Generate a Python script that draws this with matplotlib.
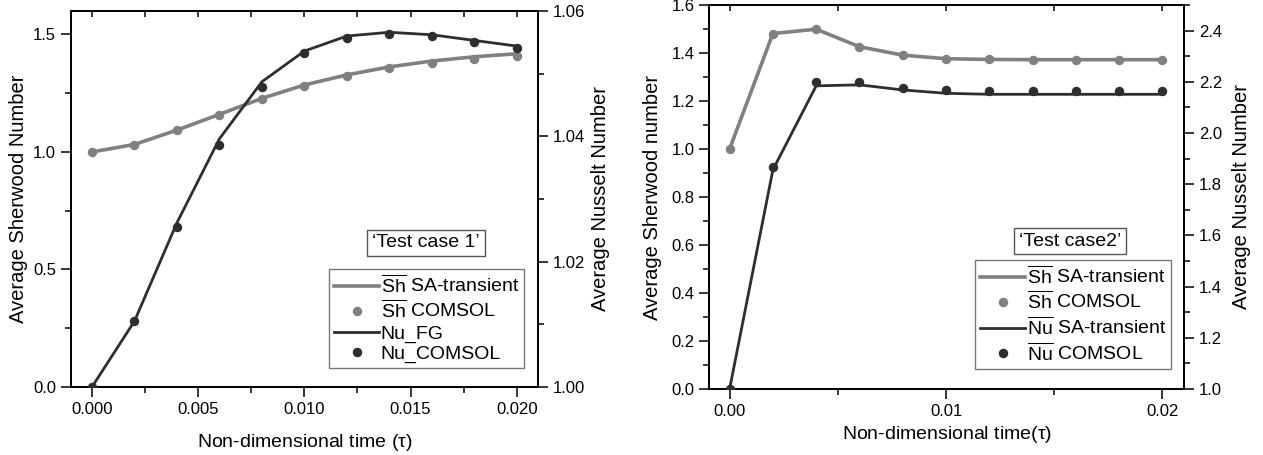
import matplotlib
matplotlib.use("Agg")
import matplotlib.pyplot as plt
from matplotlib.ticker import MultipleLocator, FormatStrFormatter

plt.rcParams['font.family'] = ['Liberation Sans', 'DejaVu Sans']
plt.rcParams['mathtext.fontset'] = 'custom'
plt.rcParams['mathtext.rm'] = 'Liberation Sans'
plt.rcParams['mathtext.it'] = 'Liberation Sans'

# ---- data ----
tau = [0.000, 0.002, 0.004, 0.006, 0.008, 0.010, 0.012, 0.014, 0.016, 0.018, 0.020]

# test case 1
sh1_line = [1.000, 1.032, 1.093, 1.160, 1.228, 1.285, 1.328, 1.362, 1.387, 1.405, 1.418]
sh1_pts = [1.000, 1.031, 1.092, 1.159, 1.226, 1.282, 1.323, 1.356, 1.380, 1.397, 1.409]
nu1_line = [1.0000, 1.0105, 1.0262, 1.0396, 1.0487, 1.0536, 1.0560, 1.0566, 1.0562, 1.0553, 1.0544]
nu1_pts = [1.0000, 1.0105, 1.0255, 1.0386, 1.0478, 1.0533, 1.0557, 1.0563, 1.0560, 1.0551, 1.0541]

# test case 2
sh2_line = [1.000, 1.481, 1.499, 1.426, 1.391, 1.376, 1.373, 1.372, 1.372, 1.372, 1.372]
sh2_pts = [1.000, 1.481, 1.499, 1.426, 1.391, 1.376, 1.373, 1.372, 1.372, 1.372, 1.372]
nu2_line = [1.000, 1.856, 2.184, 2.188, 2.168, 2.155, 2.151, 2.151, 2.151, 2.151, 2.151]
nu2_pts = [1.000, 1.869, 2.201, 2.201, 2.177, 2.166, 2.162, 2.162, 2.162, 2.162, 2.162]

gray = '#808080'
dark = '#2e2e2e'
fs_tick = 12
fs_lab = 14.5
fs_xlab = 14
fs_leg = 14
sh_tex = r'$\overline{\mathrm{Sh}}$'
nu_tex = r'$\overline{\mathrm{Nu}}$'


def style(ax):
    ax.tick_params(which='both', direction='out', labelsize=fs_tick, width=1.1)
    ax.tick_params(which='major', length=7)
    ax.tick_params(which='minor', length=4)
    for s in ax.spines.values():
        s.set_linewidth(1.3)


def add_top(ax):
    sec = ax.secondary_xaxis('top')
    sec.xaxis.set_major_locator(ax.xaxis.get_major_locator())
    sec.xaxis.set_minor_locator(ax.xaxis.get_minor_locator())
    sec.tick_params(which='both', direction='in', length=4.5, width=1.1, labeltop=False)
    sec.spines['top'].set_linewidth(1.3)


def legend_box(ax_main, ax_twin, anchor, text, text_xy):
    h1, l1 = ax_main.get_legend_handles_labels()
    h2, l2 = ax_twin.get_legend_handles_labels()
    leg = ax_twin.legend(h1 + h2, l1 + l2, loc='lower right', bbox_to_anchor=anchor,
                         fontsize=fs_leg, frameon=True, fancybox=False, edgecolor='#555555',
                         handlelength=2.3, handletextpad=0.1, labelspacing=0.15,
                         borderpad=0.25, borderaxespad=0)
    leg.get_frame().set_linewidth(1.0)
    ax_twin.text(text_xy[0], text_xy[1], text, transform=ax_twin.transAxes,
                 ha='center', va='center', fontsize=fs_leg,
                 bbox=dict(boxstyle='square,pad=0.25', fc='white', ec='#555555', lw=1.0))


fig = plt.figure(figsize=(12.63, 4.55), dpi=100)

# ---------- left panel ----------
ax1 = fig.add_axes([0.056, 0.1495, 0.370, 0.8264])
ax1b = ax1.twinx()
ax1.plot(tau, sh1_line, color=gray, lw=2.6, label=sh_tex + ' SA-transient', zorder=2)
ax1.plot(tau, sh1_pts, 'o', color=gray, ms=5.8, label=sh_tex + ' COMSOL', zorder=3)
ax1b.plot(tau, nu1_line, color=dark, lw=2.0, label='Nu_FG', zorder=2)
ax1b.plot(tau, nu1_pts, 'o', color=dark, ms=5.8, label='Nu_COMSOL', zorder=3)
ax1.set_xlim(-0.001, 0.021)
ax1.set_ylim(0, 1.6)
ax1b.set_ylim(1.0, 1.06)
ax1.xaxis.set_major_locator(MultipleLocator(0.005))
ax1.xaxis.set_minor_locator(MultipleLocator(0.0025))
ax1.xaxis.set_major_formatter(FormatStrFormatter('%.3f'))
ax1.yaxis.set_major_locator(MultipleLocator(0.5))
ax1.yaxis.set_minor_locator(MultipleLocator(0.25))
ax1b.yaxis.set_major_locator(MultipleLocator(0.02))
ax1b.yaxis.set_minor_locator(MultipleLocator(0.01))
ax1b.yaxis.set_major_formatter(FormatStrFormatter('%.2f'))
style(ax1)
style(ax1b)
add_top(ax1)
ax1.set_xlabel(r'Non-dimensional time ($\tau$)', fontsize=fs_xlab, labelpad=11)
ax1.set_ylabel('Average Sherwood Number', fontsize=fs_lab, labelpad=4)
ax1b.set_ylabel('Average Nusselt Number', fontsize=fs_lab, labelpad=4)
legend_box(ax1, ax1b, (0.970, 0.05), '\u2018Test case 1\u2019', (0.760, 0.383))

# ---------- right panel ----------
ax2 = fig.add_axes([0.5614, 0.1451, 0.3761, 0.844])
ax2b = ax2.twinx()
ax2.plot(tau, sh2_line, color=gray, lw=2.6, label=sh_tex + ' SA-transient', zorder=2)
ax2.plot(tau, sh2_pts, 'o', color=gray, ms=5.8, label=sh_tex + ' COMSOL', zorder=3)
ax2b.plot(tau, nu2_line, color=dark, lw=2.0, label=nu_tex + ' SA-transient', zorder=2)
ax2b.plot(tau, nu2_pts, 'o', color=dark, ms=5.8, label=nu_tex + ' COMSOL', zorder=3)
ax2.set_xlim(-0.00095, 0.021)
ax2.set_ylim(0, 1.6)
ax2b.set_ylim(1.0, 2.5)
ax2.xaxis.set_major_locator(MultipleLocator(0.01))
ax2.xaxis.set_minor_locator(MultipleLocator(0.005))
ax2.xaxis.set_major_formatter(FormatStrFormatter('%.2f'))
ax2.yaxis.set_major_locator(MultipleLocator(0.2))
ax2.yaxis.set_minor_locator(MultipleLocator(0.1))
ax2.yaxis.set_major_formatter(FormatStrFormatter('%.1f'))
ax2b.yaxis.set_major_locator(MultipleLocator(0.2))
ax2b.yaxis.set_minor_locator(MultipleLocator(0.1))
ax2b.yaxis.set_major_formatter(FormatStrFormatter('%.1f'))
style(ax2)
style(ax2b)
add_top(ax2)
ax2.set_xlabel(r'Non-dimensional time($\tau$)', fontsize=fs_xlab, labelpad=4)
ax2.set_ylabel('Average Sherwood number', fontsize=fs_lab, labelpad=7)
ax2b.set_ylabel('Average Nusselt Number', fontsize=fs_lab, labelpad=7)
legend_box(ax2, ax2b, (0.973, 0.052), '\u2018Test case2\u2019', (0.760, 0.385))

fig.savefig('out.png', dpi=100)
